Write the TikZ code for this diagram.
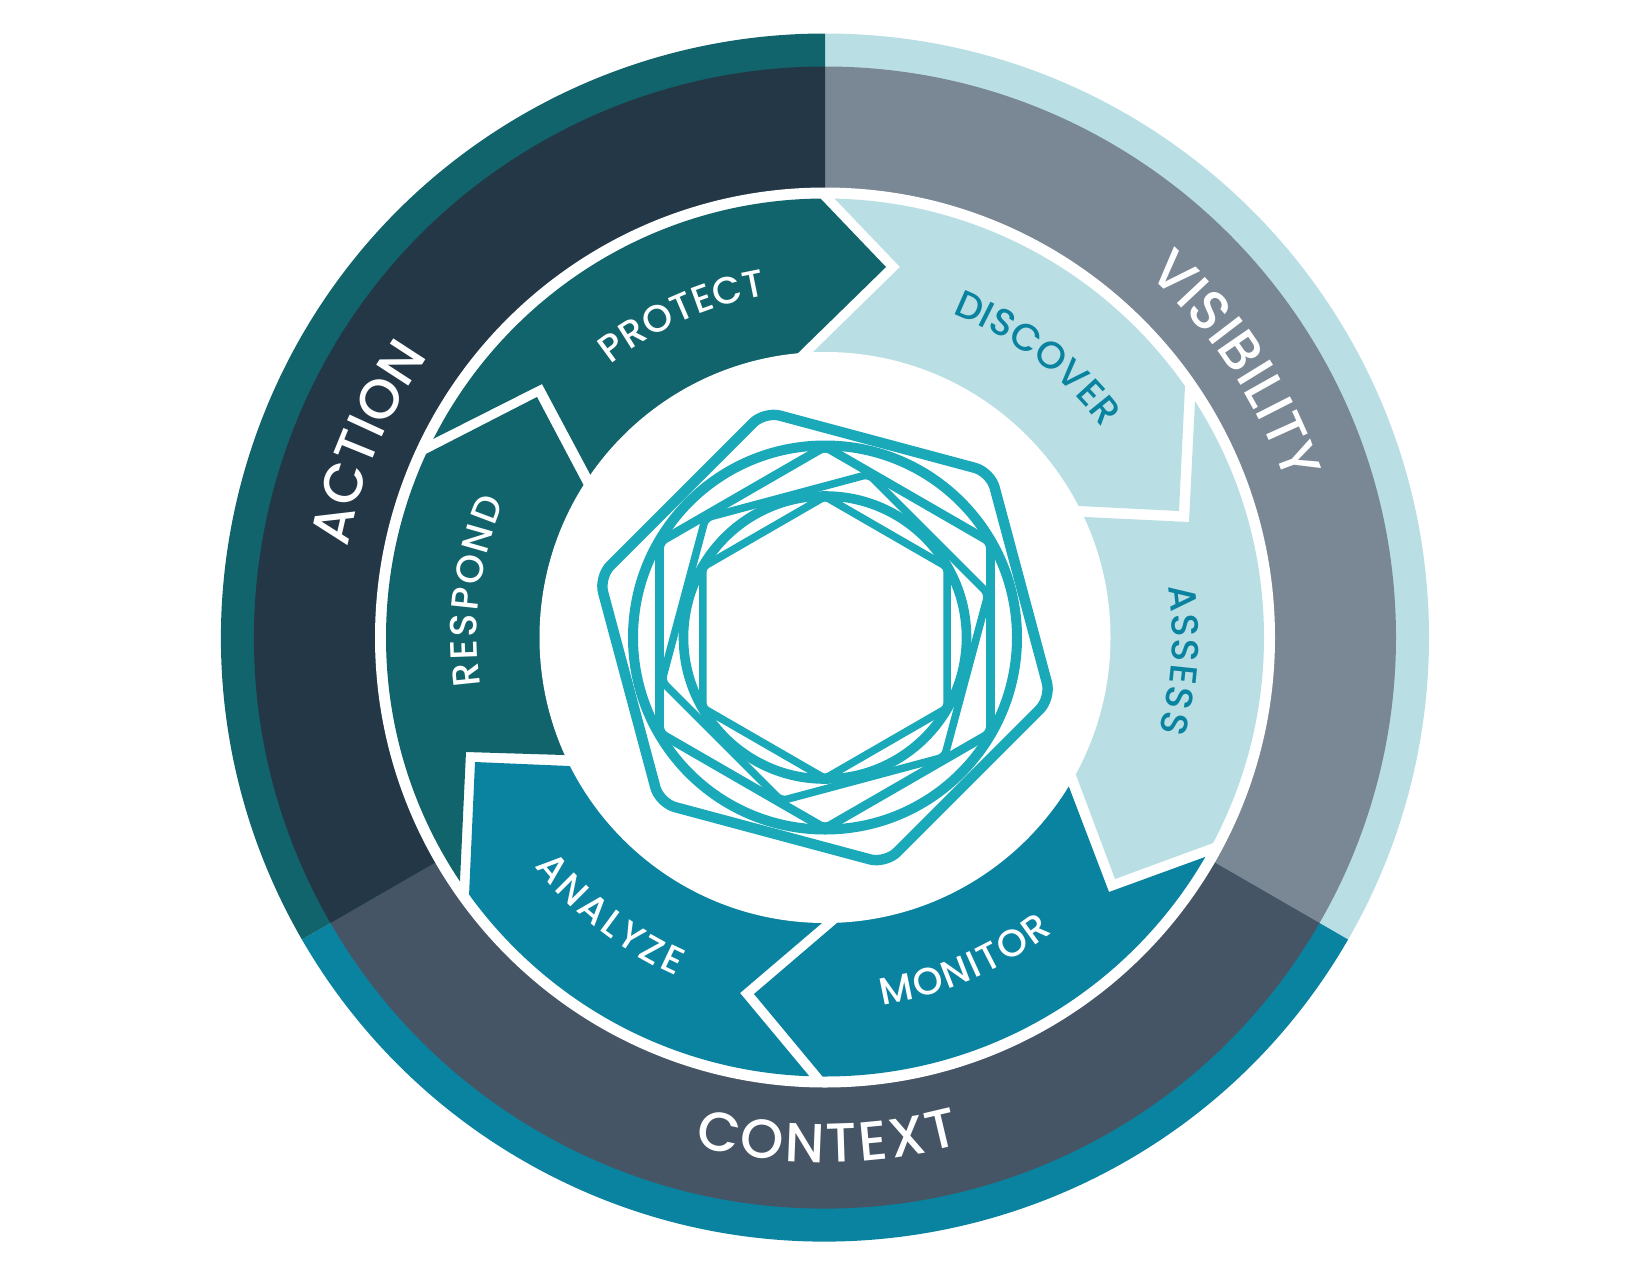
\documentclass[tikz,border=0pt]{standalone}
\usepackage{fontspec}
\usetikzlibrary{calc,decorations.text}
\newfontfamily\labfont{Poppins Medium}
\definecolor{actout}{HTML}{11646B}
\definecolor{actin}{HTML}{243746}
\definecolor{visout}{HTML}{B9DFE4}
\definecolor{visin}{HTML}{7A8794}
\definecolor{conout}{HTML}{0A83A0}
\definecolor{conin}{HTML}{455565}
\definecolor{hexcol}{HTML}{19A9B9}
\newcommand\bigwhite{\labfont\fontsize{27.5}{30}\selectfont\color{white}}
\newcommand\smallwhite{\labfont\fontsize{19}{22}\selectfont\color{white}}
\newcommand\smallteal{\labfont\fontsize{19}{22}\selectfont\color{conout}}
% pie sector of the outer rings
\newcommand\sector[4]{\fill[#1] (C) -- ++(#2:#4) arc[start angle=#2,end angle=#3,radius=#4] -- cycle;}
% arrow-shaped segment: colour, O1,T1,I1, I2,T2,O2, far corner
\newcommand\segment[8]{\fill[#1] ($(#3)!1.25!(#2)$) -- (#3) -- ($(#3)!1.1!(#4)$) -- (C) -- ($(#6)!1.1!(#5)$) -- (#6) -- ($(#6)!1.25!(#7)$) -- (#8) -- cycle;}
% text fitted to an arc; #3 = centre angle (y axis points down), #4 = half span, #5 = baseline radius
\newcommand\cwlabel[5]{\path[decorate,decoration={text along path,text={|#1|#2},text align={fit to path}}] (C) ++(#3-#4:#5) arc[start angle=#3-#4,end angle=#3+#4,radius=#5];}
\newcommand\ccwlabel[5]{\path[decorate,decoration={text along path,text={|#1|#2},text align={fit to path}}] (C) ++(#3+#4:#5) arc[start angle=#3+#4,end angle=#3-#4,radius=#5];}
\newcommand\hexa[4]{\draw[hexline,line width=#3,rounded corners=#4] (#2:#1) -- (#2+60:#1) -- (#2+120:#1) -- (#2+180:#1) -- (#2+240:#1) -- (#2+300:#1) -- cycle;}
\tikzset{hexline/.style={draw=hexcol,line join=round}}
\begin{document}
\begin{tikzpicture}[x=0.5pt,y=-0.5pt]
\useasboundingbox (0,0) rectangle (1650,1275);
\fill[white] (0,0) rectangle (1650,1275);
\coordinate (C) at (825,637.5);
% outer rings
\sector{visout}{-90}{30}{604}
\sector{conout}{30}{150}{604}
\sector{actout}{150}{270}{604}
\sector{visin}{-90}{30}{571}
\sector{conin}{30}{150}{571}
\sector{actin}{150}{270}{571}
\fill[white] (C) circle[radius=450];
% arrow segments
\begin{scope}
\clip (C) circle[radius=439];
\segment{actout}{433,439}{542,384}{590,474}{799,352}{886,267}{820,198}{309,-100}
\segment{visout}{834,198}{900,267}{814,351}{1079,506}{1179,511}{1185,386}{1275,-143}
\segment{visout}{1195,401}{1189,522}{1085,517}{1076,775}{1115,879}{1213,843}{1725,637}
\segment{conout}{1205,857}{1109,892}{1069,787}{837,923}{754,994}{823,1077}{1341,1374}
\segment{conout}{810,1077}{740,993}{822,923}{569,766}{475,762}{469,896}{375,1416}
\segment{actout}{460,881}{466,752}{564,755}{583,484}{537,397}{424,455}{-75,637}
\end{scope}
\fill[white] (C) circle[radius=285.5];
% centre emblem
\begin{scope}[shift={(C)}]
\hexa{141}{30}{3.8pt}{2pt}
\draw[hexline,line width=4.8pt] (0,0) circle[radius=141.5];
\hexa{169}{-75}{3.8pt}{3pt}
\hexa{191}{30}{4.4pt}{3pt}
\draw[hexline,line width=5pt] (0,0) circle[radius=192];
\hexa{234}{-45}{5.2pt}{8pt}
\end{scope}
% labels
\cwlabel{\bigwhite}{ACTION}{-157.5}{11.8}{486}
\cwlabel{\bigwhite}{VISIBILITY}{-33.5}{15}{486}
\ccwlabel{\bigwhite}{CONTEXT}{89.7}{14.7}{525}
\cwlabel{\smallwhite}{PROTECT}{-113.9}{14.2}{347}
\cwlabel{\smallteal}{DISCOVER}{-52.8}{15.8}{348}
\cwlabel{\smallteal}{ASSESS}{3.6}{12.1}{347}
\cwlabel{\smallwhite}{RESPOND}{-172.5}{15.5}{348}
\ccwlabel{\smallwhite}{MONITOR}{66.7}{14.4}{372}
\ccwlabel{\smallwhite}{ANALYZE}{127.75}{14.05}{370}
\end{tikzpicture}
\end{document}
